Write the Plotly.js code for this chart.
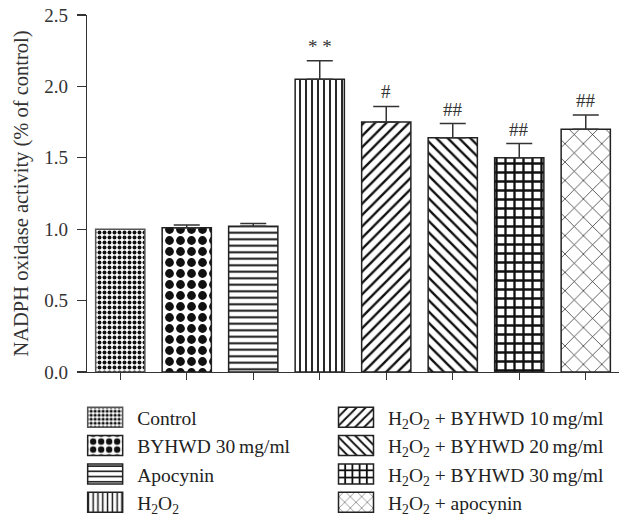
<!DOCTYPE html>
<html><head><meta charset="utf-8">
<script src="https://cdn.plot.ly/plotly-3.0.1.min.js"></script>
<style>html,body{margin:0;padding:0;background:#fff}</style>
</head><body><div id="chart" style="width:619px;height:520px"></div>
<script>
const categories = ['Control', 'BYHWD 30\u2009mg/ml', 'Apocynin', 'H<sub>2</sub>O<sub>2</sub>',
  'H<sub>2</sub>O<sub>2</sub> + BYHWD 10\u2009mg/ml', 'H<sub>2</sub>O<sub>2</sub> + BYHWD 20\u2009mg/ml',
  'H<sub>2</sub>O<sub>2</sub> + BYHWD 30\u2009mg/ml', 'H<sub>2</sub>O<sub>2</sub> + apocynin'];
const values = [1.00, 1.01, 1.02, 2.05, 1.75, 1.64, 1.50, 1.70];
const errors = [0.00, 0.02, 0.02, 0.13, 0.11, 0.10, 0.10, 0.10];
const significance = ['', '', '', '* *', '#', '##', '##', '##'];
const yTicks = [0, 0.5, 1.0, 1.5, 2.0, 2.5];

const patterns = [
  {shape: '.', size: 5, solidity: 0.5},
  {shape: '.', size: 11, solidity: 0.5},
  {shape: '-', size: 6.5, solidity: 0.3},
  {shape: '|', size: 6, solidity: 0.3},
  {shape: '/', size: 8, solidity: 0.3},
  {shape: '\\', size: 8, solidity: 0.3},
  {shape: '+', size: 9, solidity: 0.45},
  {shape: 'x', size: 13, solidity: 0.1}
];
const FONT = 'Liberation Serif, Times New Roman, serif';

const traces = categories.map((c, i) => ({
  type: 'bar',
  x: [c],
  y: [values[i]],
  name: c,
  legend: i < 4 ? 'legend' : 'legend2',
  width: 0.74,
  marker: {
    color: '#ffffff',
    line: {color: i === 0 ? '#555' : '#222', width: 1.5},
    pattern: Object.assign({fgcolor: '#111', bgcolor: '#ffffff', fillmode: 'replace'}, patterns[i])
  },
  error_y: {type: 'data', symmetric: false, array: [errors[i]], arrayminus: [0],
            visible: errors[i] > 0, color: '#333', thickness: 1.5, width: 13},
  hoverinfo: 'skip'
}));

const annotations = categories.map((c, i) => ({
  x: c, y: values[i] + errors[i], xref: 'x', yref: 'y',
  text: significance[i], showarrow: false, yanchor: 'bottom', yshift: 2,
  font: {family: FONT, size: 19, color: '#333'}
})).filter(a => a.text);

const legendCommon = {
  yanchor: 'top', xanchor: 'left', orientation: 'v', itemwidth: 54,
  font: {family: FONT, size: 19.5, color: '#222'}, tracegroupgap: 0,
  bgcolor: 'rgba(0,0,0,0)', borderwidth: 0
};

const layout = {
  width: 619, height: 520,
  margin: {l: 87, r: 0, t: 15, b: 148, autoexpand: false},
  paper_bgcolor: '#fff', plot_bgcolor: '#fff',
  barmode: 'overlay',
  font: {family: FONT, size: 19, color: '#222'},
  xaxis: {
    type: 'category', categoryorder: 'array', categoryarray: categories,
    range: [-0.5, 7.5], showticklabels: false, ticks: 'outside', ticklen: 7,
    tickcolor: '#333', tickwidth: 1.2, showline: true, linecolor: '#333', linewidth: 1.2,
    showgrid: false, zeroline: false, fixedrange: true
  },
  yaxis: {
    range: [0, 2.5], tickvals: yTicks, ticktext: yTicks.map(v => v.toFixed(1)),
    ticks: 'outside', ticklen: 9, tickcolor: '#333', tickwidth: 1.2, ticklabelstandoff: 5,
    showline: true, linecolor: '#333', linewidth: 1.2, showgrid: false, zeroline: false,
    tickfont: {family: FONT, size: 19, color: '#333'},
    title: {text: 'NADPH oxidase activity (% of control)', font: {family: FONT, size: 20.5, color: '#333'}, standoff: 10}
  },
  legend: Object.assign({x: -0.026, y: -0.073}, legendCommon),
  legend2: Object.assign({x: 0.4455, y: -0.073}, legendCommon),
  annotations: annotations,
  showlegend: true
};

Plotly.newPlot('chart', traces, layout, {displayModeBar: false, staticPlot: true}).then(gd => {
  // enlarge the legend swatches to the reference's wide rectangles
  gd.querySelectorAll('.legendpoints path').forEach(p => {
    p.setAttribute('d', 'M17.5,10H-17.5V-10H17.5Z');
  });
});
</script></body></html>
